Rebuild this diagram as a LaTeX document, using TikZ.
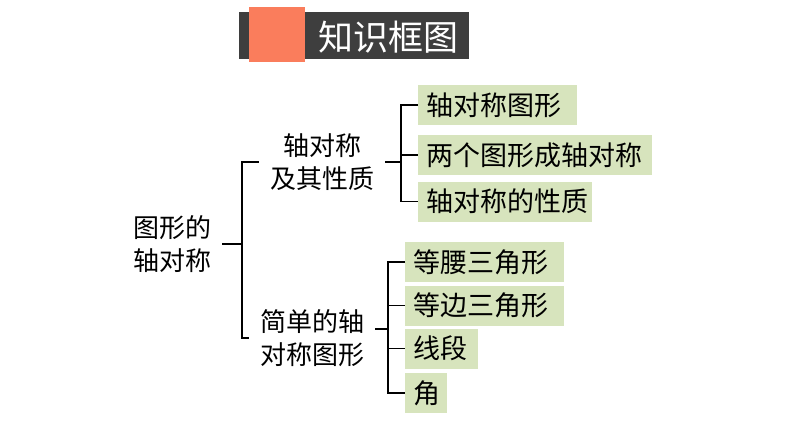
\documentclass[tikz,border=0pt]{standalone}
\usepackage{fontspec}
\setmainfont{Noto Sans CJK SC}
\usetikzlibrary{positioning}
\definecolor{boxgreen}{RGB}{215,228,189}
\definecolor{bardark}{RGB}{62,62,62}
\definecolor{tagorange}{RGB}{250,125,92}

\begin{document}
\begin{tikzpicture}[x=1pt, y=-1pt,
    line/.style={line width=1.5pt, black},
    topic/.style={font=\fontsize{26}{33}\selectfont, align=center, inner xsep=11pt},
    box/.style={fill=boxgreen, anchor=west, minimum height=40pt, inner xsep=8pt, inner ysep=0pt, text width=#1, align=left, font=\fontsize{27}{30}\selectfont}
]
\useasboundingbox (0,0) rectangle (794,447);

% Titel
\node[fill=bardark, minimum width=230pt, minimum height=47pt, inner sep=0pt] (bar) at (354,35.5) {};
\node[fill=tagorange, minimum width=56pt, minimum height=55pt, inner sep=0pt] (tag) at (277,34.5) {};
\node[text=white, font=\fontsize{35}{40}\selectfont, inner sep=0pt] (title) at (388,37) {知识框图};

% Knoten
\node[topic] (root) at (172,244) {图形的\\轴对称};
\node[topic] (sym) at (322,162) {轴对称\\及其性质};
\node[topic] (simple) at (312,338) {简单的轴\\对称图形};

\node[box=143pt] (b1) at (418,105) {轴对称图形};
\node[box=218pt] (b2) at (418,155) {两个图形成轴对称};
\node[box=158pt] (b3) at (418,201.5) {轴对称的性质};

\node[box=143pt] (c1) at (405,262) {等腰三角形};
\node[box=143pt] (c2) at (405,305.5) {等边三角形};
\node[box=57pt] (c3) at (405,348.5) {线段};
\node[box=26pt] (c4) at (405,393) {角};

% Klammern
\coordinate (j1) at (242,244);
\coordinate (j2) at (401,162);
\coordinate (j3) at (388,329);

\draw[line] (root.east) -- (j1);
\draw[line] (sym.west) -| (j1) |- (simple.west);

\draw[line] (sym.east) -- (j2);
\draw[line] (b1.west) -| (j2) |- (b3.west);
\draw[line] (j2) |- (b2.west);

\draw[line] (simple.east |- j3) -- (j3);
\draw[line] (c1.west) -| (j3) |- (c4.west);
\draw[line] (j3) |- (c2.west);
\draw[line] (j3) |- (c3.west);

\end{tikzpicture}
\end{document}
